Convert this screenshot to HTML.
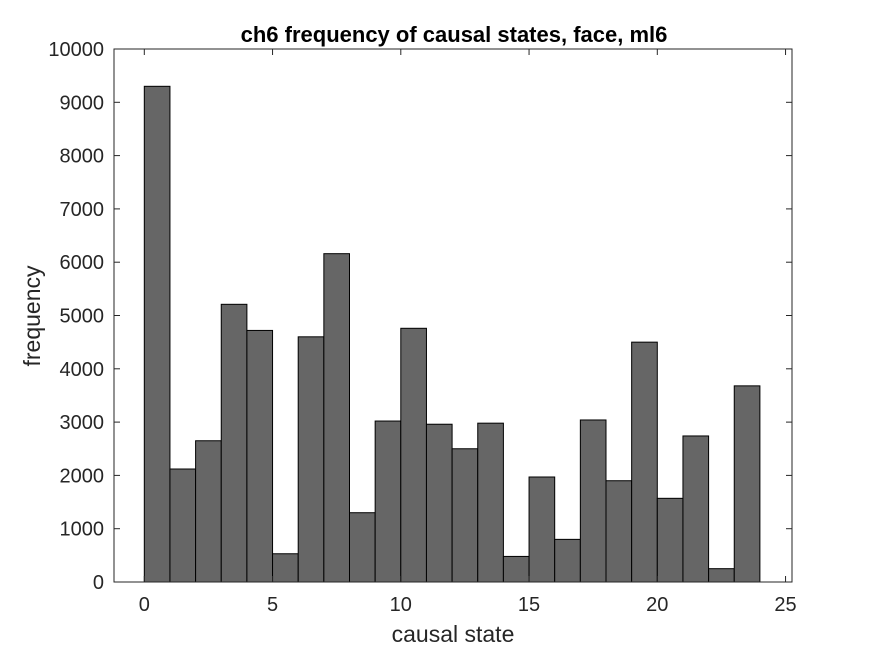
<!DOCTYPE html>
<html><head><meta charset="utf-8"><style>body{margin:0;background:#fff}svg{display:block;font-family:"Liberation Sans",Arial,sans-serif}</style></head>
<body>
<svg id="c" width="875" height="656"></svg>
<script>
const categories=[0,1,2,3,4,5,6,7,8,9,10,11,12,13,14,15,16,17,18,19,20,21,22,23];
const values=[9300,2120,2650,5210,4720,530,4600,6160,1300,3020,4760,2960,2500,2980,480,1970,800,3040,1900,4500,1570,2740,250,3680];
const xTicks=[0,5,10,15,20,25];
const yTicks=[0,1000,2000,3000,4000,5000,6000,7000,8000,9000,10000];
const L=114,R=792,T=49,B=582;
const xs=v=>144.3+v*25.65;
const ys=v=>B-(v/10000)*(B-T);
const svg=document.getElementById('c');
const NS='http://www.w3.org/2000/svg';
function mk(t,a,txt){const e=document.createElementNS(NS,t);for(const k in a)e.setAttribute(k,a[k]);if(txt!==undefined)e.textContent=txt;svg.appendChild(e);return e;}
let bg=mk('rect',{x:L,y:T,width:R-L,height:B-T,fill:'#fff'});


categories.forEach((c,i)=>{
 const r=mk('rect',{x:xs(c),y:ys(values[i]),width:xs(c+1)-xs(c),height:B-ys(values[i]),fill:'#666666',stroke:'#000','stroke-width':1});
 
 
});
let box=mk('rect',{x:L,y:T,width:R-L,height:B-T,fill:'none',stroke:'#262626','stroke-width':1});


xTicks.forEach(v=>{
 mk('line',{x1:xs(v),x2:xs(v),y1:B,y2:B-6,stroke:'#262626'});
 mk('line',{x1:xs(v),x2:xs(v),y1:T,y2:T+6,stroke:'#262626'});
 const t=mk('text',{x:xs(v),y:B+29,'text-anchor':'middle','font-size':20,fill:'#262626'},v);
 
 
});
yTicks.forEach(v=>{
 mk('line',{x1:L,x2:L+6,y1:ys(v),y2:ys(v),stroke:'#262626'});
 mk('line',{x1:R,x2:R-6,y1:ys(v),y2:ys(v),stroke:'#262626'});
 const t=mk('text',{x:L-10,y:ys(v)+7,'text-anchor':'end','font-size':20,fill:'#262626'},v);
 
 
});
let ti=mk('text',{x:454,y:42,'text-anchor':'middle','font-size':22,'font-weight':'bold',fill:'#000'},'ch6 frequency of causal states, face, ml6');


let xl=mk('text',{x:453,y:642,'text-anchor':'middle','font-size':23,fill:'#262626'},'causal state');


let yl=mk('text',{x:40,y:316,'text-anchor':'middle','font-size':23,fill:'#262626',transform:'rotate(-90 40 316)'},'frequency');


</script>
</body></html>
